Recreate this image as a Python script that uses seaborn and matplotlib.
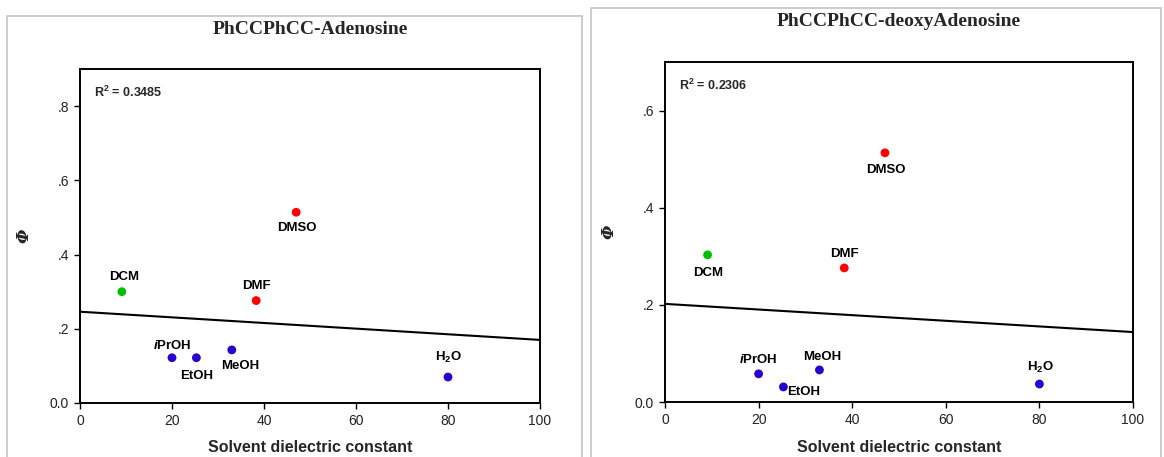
import matplotlib
matplotlib.use("Agg")
import matplotlib.pyplot as plt
from matplotlib.patches import Rectangle
from matplotlib.ticker import FixedLocator, FuncFormatter
import seaborn as sns
import pandas as pd

# Solvents and their dielectric constants
solvents = ["DCM", "iPrOH", "EtOH", "MeOH", "DMF", "DMSO", "H2O"]
dielectric = [9.1, 20.0, 25.3, 33.0, 38.3, 47.0, 80.0]
solvent_class = ["chlorinated", "protic", "protic", "protic", "aprotic", "aprotic", "protic"]

# Quantum yields
phi_adenosine = [0.300, 0.122, 0.122, 0.143, 0.276, 0.514, 0.070]
phi_deoxy = [0.303, 0.058, 0.031, 0.066, 0.276, 0.513, 0.037]

# Linear fits (intercept, slope) and R^2
fit_adenosine = (0.246, -0.00076)
fit_deoxy = (0.202, -0.00058)
r2_adenosine = "0.3485"
r2_deoxy = "0.2306"

titles = ["PhCCPhCC-Adenosine", "PhCCPhCC-deoxyAdenosine"]
x_ticks = [0, 20, 40, 60, 80, 100]
y_ticks_adenosine = [0.0, 0.2, 0.4, 0.6, 0.8]
y_ticks_deoxy = [0.0, 0.2, 0.4, 0.6]

palette = {"chlorinated": "#00c000", "protic": "#2a00d0", "aprotic": "#ff0000"}

display_names = {"DCM": "DCM", "iPrOH": r"$\mathit{i}$PrOH", "EtOH": "EtOH",
                 "MeOH": "MeOH", "DMF": "DMF", "DMSO": "DMSO",
                 "H2O": r"H$_{\mathbf{2}}$O"}

# label offsets in pixels (dx, dy) per solvent
offsets_adenosine = {"DCM": (2, 15), "iPrOH": (0, 12), "EtOH": (0, -18),
                     "MeOH": (8, -16), "DMF": (0, 15), "DMSO": (1, -16), "H2O": (0, 20)}
offsets_deoxy = {"DCM": (1, -18), "iPrOH": (0, 14), "EtOH": (20, -5),
                 "MeOH": (3, 13), "DMF": (0, 14), "DMSO": (1, -17), "H2O": (1, 17)}

sns.set_theme(style="white")
plt.rcParams["font.family"] = ["Liberation Sans", "DejaVu Sans"]
plt.rcParams["mathtext.fontset"] = "custom"
plt.rcParams["mathtext.rm"] = "Liberation Sans:bold"
plt.rcParams["mathtext.it"] = "Liberation Sans:bold:italic"
plt.rcParams["mathtext.bf"] = "Liberation Sans:bold"

fig = plt.figure(figsize=(11.64, 4.57), dpi=100)
W, H = 1164, 457

def fx(px):
    return px / W

def fy(py):
    return 1 - py / H

# panel frames
fig.add_artist(Rectangle((fx(7), fy(470)), fx(575), fy(16) - fy(470),
                         transform=fig.transFigure, fill=False,
                         edgecolor="#c4c4c4", linewidth=1.2))
fig.add_artist(Rectangle((fx(591), fy(470)), fx(570), fy(8) - fy(470),
                         transform=fig.transFigure, fill=False,
                         edgecolor="#c4c4c4", linewidth=1.2))

ax1 = fig.add_axes([fx(80), fy(403), fx(460), fy(69) - fy(403)])
ax2 = fig.add_axes([fx(665), fy(402), fx(468), fy(62) - fy(402)])

panels = [
    (ax1, phi_adenosine, fit_adenosine, r2_adenosine, y_ticks_adenosine, 0.9,
     offsets_adenosine, titles[0], 30),
    (ax2, phi_deoxy, fit_deoxy, r2_deoxy, y_ticks_deoxy, 0.7,
     offsets_deoxy, titles[1], 22),
]

def fmt(v, _):
    return "0.0" if abs(v) < 1e-9 else f"{v:.1f}".lstrip("0")

for ax, phi, fit, r2, yt, ymax, offs, title, title_y in panels:
    df = pd.DataFrame({"eps": dielectric, "phi": phi, "cls": solvent_class,
                       "name": solvents})
    line_df = pd.DataFrame({"eps": [0, 100],
                            "phi": [fit[0], fit[0] + fit[1] * 100]})
    sns.lineplot(data=line_df, x="eps", y="phi", ax=ax, color="black",
                 linewidth=1.5)
    sns.scatterplot(data=df, x="eps", y="phi", hue="cls", palette=palette,
                    s=40, edgecolor="none", legend=False, ax=ax, zorder=3)
    for _, row in df.iterrows():
        dx, dy = offs[row["name"]]
        ax.annotate(display_names[row["name"]], (row["eps"], row["phi"]),
                    xytext=(dx, dy), textcoords="offset pixels",
                    ha="center", va="center", fontsize=9.5,
                    fontweight="bold", color="black")
    ax.set_xlim(0, 100)
    ax.set_ylim(0, ymax)
    ax.xaxis.set_major_locator(FixedLocator(x_ticks))
    ax.yaxis.set_major_locator(FixedLocator(yt))
    ax.yaxis.set_major_formatter(FuncFormatter(fmt))
    ax.tick_params(axis="both", direction="out", length=4, width=1,
                   color="black", labelsize=10, labelcolor="#222222",
                   bottom=True, left=True, pad=4)
    for sp in ax.spines.values():
        sp.set_color("black")
        sp.set_linewidth(1.4)
    ax.set_xlabel("")
    ax.set_ylabel("Φ", fontsize=12, fontweight="bold", style="italic",
                  family=["DejaVu Serif"], labelpad=12)
    ax.text(0.03, 0.93, r"R$^{2}$ = " + r2, transform=ax.transAxes,
            fontsize=9, fontweight="bold", ha="left", va="center")
    bbox = ax.get_position()
    xc = (bbox.x0 + bbox.x1) / 2
    fig.text(xc, fy(447), "Solvent dielectric constant", ha="center",
             va="center", fontsize=11.5, fontweight="bold")
    fig.text(xc, fy(title_y), title,
             ha="center", va="center", fontsize=14, fontweight="bold",
             family=["Liberation Serif"])

fig.savefig("out.png", dpi=100)
